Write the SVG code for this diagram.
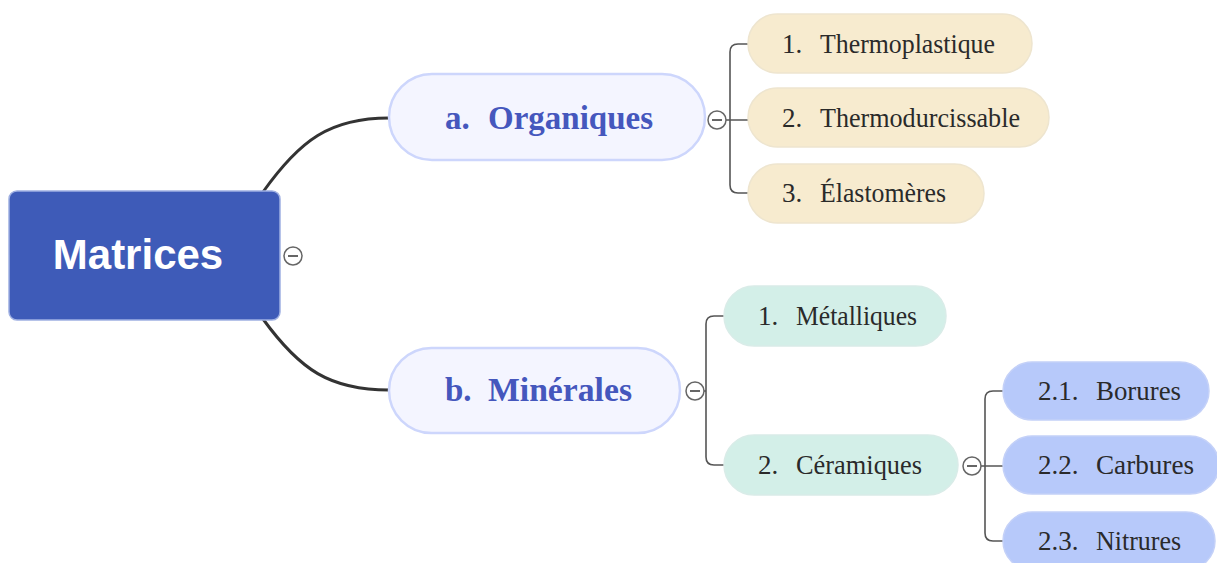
<svg xmlns="http://www.w3.org/2000/svg" width="1217" height="563" viewBox="0 0 1217 563">
  <style>
    .root { fill: #3e5bb8; stroke: #9fb0e2; stroke-width: 1.5; }
    .root-text { font-family: "Liberation Sans", Arial, sans-serif; font-weight: bold; font-size: 42px; fill: #ffffff; }
    .main { fill: #f4f5ff; stroke: #cdd6fc; stroke-width: 2.5; }
    .main-text { font-family: "Liberation Serif", "Times New Roman", serif; font-weight: bold; font-size: 33px; fill: #4557bd; }
    .org { fill: #f7ebcf; stroke: #eee5cf; stroke-width: 1.5; }
    .min { fill: #d3efe8; stroke: #d9ece8; stroke-width: 1.5; }
    .cer { fill: #b7c9fa; stroke: #c4d1f8; stroke-width: 1.5; }
    .leaf-text { font-family: "Liberation Serif", "Times New Roman", serif; font-size: 27px; fill: #2a2a2a; }
    .trunk { fill: none; stroke: #333333; stroke-width: 3; stroke-linecap: round; }
    .branch { fill: none; stroke: #555555; stroke-width: 1.6; }
    .toggle circle { fill: #ffffff; stroke: #666666; stroke-width: 1.5; }
    .toggle line { stroke: #666666; stroke-width: 2; }
  </style>

  <!-- connectors -->
  <g id="connectors">
    <path class="trunk" d="M263,192 C300,140 330,118 389,118"/>
    <path class="trunk" d="M263,319 C300,370 330,390 389,390"/>
    <!-- Organiques children -->
    <path class="branch" d="M726,120 H748 M748,44 H738 Q730,44 730,52 V185 Q730,193 738,193 H748"/>
    <!-- Minérales children -->
    <path class="branch" d="M704,391 H706 M724,316 H714 Q706,316 706,324 V457 Q706,465 714,465 H724"/>
    <!-- Céramiques children -->
    <path class="branch" d="M981,466 H1003 M1003,391 H993 Q985,391 985,399 V533 Q985,541 993,541 H1003"/>
  </g>

  <g id="node-matrices">
    <rect class="root" x="9" y="191" width="271" height="129" rx="8"/>
    <text class="root-text" x="138" y="269" text-anchor="middle">Matrices</text>
    <g class="toggle"><circle cx="293" cy="256" r="9"/><line x1="288" y1="256" x2="298" y2="256"/></g>
  </g>

  <g id="node-organiques">
    <rect class="main" x="389" y="74" width="316" height="86" rx="43"/>
    <text class="main-text" x="445" y="129">a.</text>
    <text class="main-text" x="488" y="129" textLength="165" lengthAdjust="spacingAndGlyphs">Organiques</text>
    <g class="toggle"><circle cx="717" cy="120" r="9"/><line x1="712" y1="120" x2="722" y2="120"/></g>
  </g>

  <g id="node-thermoplastique">
    <rect class="org" x="748" y="14" width="284" height="59" rx="29.5"/>
    <text class="leaf-text" x="782" y="53">1.</text>
    <text class="leaf-text" x="820" y="53" textLength="175" lengthAdjust="spacingAndGlyphs">Thermoplastique</text>
  </g>

  <g id="node-thermodurcissable">
    <rect class="org" x="748" y="88" width="301" height="59" rx="29.5"/>
    <text class="leaf-text" x="782" y="127">2.</text>
    <text class="leaf-text" x="820" y="127" textLength="200" lengthAdjust="spacingAndGlyphs">Thermodurcissable</text>
  </g>

  <g id="node-elastomeres">
    <rect class="org" x="748" y="164" width="236" height="59" rx="29.5"/>
    <text class="leaf-text" x="782" y="202">3.</text>
    <text class="leaf-text" x="820" y="202" textLength="126" lengthAdjust="spacingAndGlyphs">Élastomères</text>
  </g>

  <g id="node-minerales">
    <rect class="main" x="389" y="348" width="291" height="85" rx="42.5"/>
    <text class="main-text" x="445" y="401">b.</text>
    <text class="main-text" x="488" y="401" textLength="144" lengthAdjust="spacingAndGlyphs">Minérales</text>
    <g class="toggle"><circle cx="695" cy="391" r="9"/><line x1="690" y1="391" x2="700" y2="391"/></g>
  </g>

  <g id="node-metalliques">
    <rect class="min" x="724" y="286" width="222" height="60" rx="30"/>
    <text class="leaf-text" x="758" y="325">1.</text>
    <text class="leaf-text" x="796" y="325" textLength="121" lengthAdjust="spacingAndGlyphs">Métalliques</text>
  </g>

  <g id="node-ceramiques">
    <rect class="min" x="724" y="435" width="234" height="60" rx="30"/>
    <text class="leaf-text" x="758" y="474">2.</text>
    <text class="leaf-text" x="796" y="474" textLength="126" lengthAdjust="spacingAndGlyphs">Céramiques</text>
    <g class="toggle"><circle cx="972" cy="466" r="9"/><line x1="967" y1="466" x2="977" y2="466"/></g>
  </g>

  <g id="node-borures">
    <rect class="cer" x="1003" y="362" width="206" height="58" rx="29"/>
    <text class="leaf-text" x="1038" y="400">2.1.</text>
    <text class="leaf-text" x="1096" y="400" textLength="85" lengthAdjust="spacingAndGlyphs">Borures</text>
  </g>

  <g id="node-carbures">
    <rect class="cer" x="1003" y="436" width="216" height="58" rx="29"/>
    <text class="leaf-text" x="1038" y="474">2.2.</text>
    <text class="leaf-text" x="1096" y="474" textLength="98" lengthAdjust="spacingAndGlyphs">Carbures</text>
  </g>

  <g id="node-nitrures">
    <rect class="cer" x="1003" y="512" width="212" height="58" rx="29"/>
    <text class="leaf-text" x="1038" y="550">2.3.</text>
    <text class="leaf-text" x="1096" y="550" textLength="85" lengthAdjust="spacingAndGlyphs">Nitrures</text>
  </g>
</svg>
